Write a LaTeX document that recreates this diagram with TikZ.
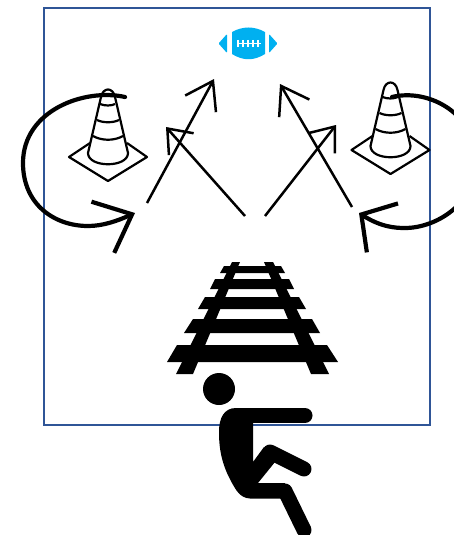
\documentclass[tikz,border=0pt]{standalone}
\usetikzlibrary{arrows.meta}
\definecolor{framecol}{HTML}{2F5597}
\definecolor{ballcol}{HTML}{00B0F0}
\tikzstyle{frame}=[draw=framecol, line width=2.6pt]
\tikzstyle{longarrow}=[-{Straight Barb[length=26pt,width=35pt]}, line width=2.5pt]
\tikzstyle{shortarrow}=[-{Straight Barb[length=21pt,width=33pt]}, line width=2.5pt]
\tikzstyle{turnarrow}=[line width=4.2pt, line cap=round]
\tikzstyle{leftturn}=[turnarrow, -{Straight Barb[length=32pt,width=56pt]}]
\tikzstyle{rightturn}=[turnarrow, -{Straight Barb[length=25pt,width=58pt]}]
\tikzstyle{coneline}=[line width=2.2pt, line join=round]
\tikzstyle{limb}=[line width=15pt, line cap=round]
\tikzset{
    cone/.pic={
        \draw[coneline] (90,143) -- (69,157) -- (108,181) -- (147,157) -- (127,143);
        \draw[coneline] (88,153) -- (101,97) .. controls (103,87) and (113,87) .. (115,97) -- (128,153)
            .. controls (128,168) and (88,168) .. (88,153);
        \draw[coneline] (100,104) .. controls (105,106) and (111,106) .. (115,104);
        \draw[coneline] (97,120) .. controls (103,123) and (113,123) .. (119,120);
        \draw[coneline] (93,136) .. controls (102,141) and (114,141) .. (123,136);
    }
}

\begin{document}
\begin{tikzpicture}[x=1pt, y=-1pt]

    \useasboundingbox (0,0) rectangle (454,535);
    \draw[frame] (44,8) rectangle (430,425);

    % ball
    \fill[ballcol] (232,32) .. controls (243,26) and (254,26) .. (265,32)
        -- (265,54) .. controls (254,61) and (243,61) .. (232,54) -- cycle;
    \fill[ballcol, rounded corners=1pt] (227,34) -- (218.5,43.5) -- (227,53) -- cycle;
    \fill[ballcol, rounded corners=1pt] (269,34) -- (277.5,43.5) -- (269,53) -- cycle;
    \draw[white, line width=1.6pt] (237,43.5) -- (261,43.5);
    \foreach \x in {238,243,248,253,258}
        \draw[white, line width=1.4pt] (\x,40) -- (\x,47);

    % cones
    \pic (leftcone) at (0,0) {cone};
    \pic (rightcone) at (282.5,-7) {cone};

    % routes
    \coordinate (a1) at (147,203);
    \coordinate (b1) at (214,79);
    \coordinate (a2) at (245,216);
    \coordinate (b2) at (166,127);
    \coordinate (a3) at (265,216);
    \coordinate (b3) at (336,125);
    \coordinate (a4) at (352,207);
    \coordinate (b4) at (280,84);
    \draw[longarrow] (a1) -- (b1);
    \draw[shortarrow] (a2) -- (b2);
    \draw[shortarrow] (a3) -- (b3);
    \draw[longarrow] (a4) -- (b4);

    % turns round the cones
    \coordinate (l1) at (125,97);
    \coordinate (l2) at (135,213);
    \coordinate (r1) at (392,97);
    \coordinate (r2) at (359,213);
    \draw[leftturn] (l1) .. controls (85,88) and (23,110) .. (23,163)
        .. controls (23,205) and (55,226) .. (88,226) .. controls (103,226) and (117,221) .. (l2);
    \draw[rightturn] (r1) .. controls (430,88) and (476,115) .. (476,160)
        .. controls (476,205) and (435,228) .. (405,228) .. controls (395,228) and (381,227) .. (r2);

    % track
    \fill (232,262) -- (240,262) -- (193,374) -- (176,374) -- cycle;
    \fill (264,262) -- (273,262) -- (329,374) -- (311,374) -- cycle;
    \fill (177,345) -- (327,345) -- (338,362) -- (167,362) -- cycle;
    \fill (193,319) -- (312,319) -- (320,333) -- (184,333) -- cycle;
    \fill (205,297) -- (299,297) -- (306,309) -- (198,309) -- cycle;
    \fill (215,279) -- (289,279) -- (294,289) -- (210,289) -- cycle;
    \fill (224,266) -- (281,266) -- (285,273) -- (220,273) -- cycle;

    % person
    \fill (219,389) circle (16);
    \draw[limb] (240,415.5) -- (305,415.5);
    \draw[limb] (270,452) -- (304,469);
    \draw[limb] (285,491) -- (304,530);
    \fill (236,408) -- (253,408) -- (253,462) -- (264,447) -- (275,462) -- (258,483) -- (285,483) -- (285,498.5) -- (250,498.5)
        .. controls (240,498) and (236,490) .. (232,483)
        .. controls (222,465) and (219,450) .. (219,432)
        .. controls (219,418) and (224,408) .. (236,408) -- cycle;

\end{tikzpicture}
\end{document}
